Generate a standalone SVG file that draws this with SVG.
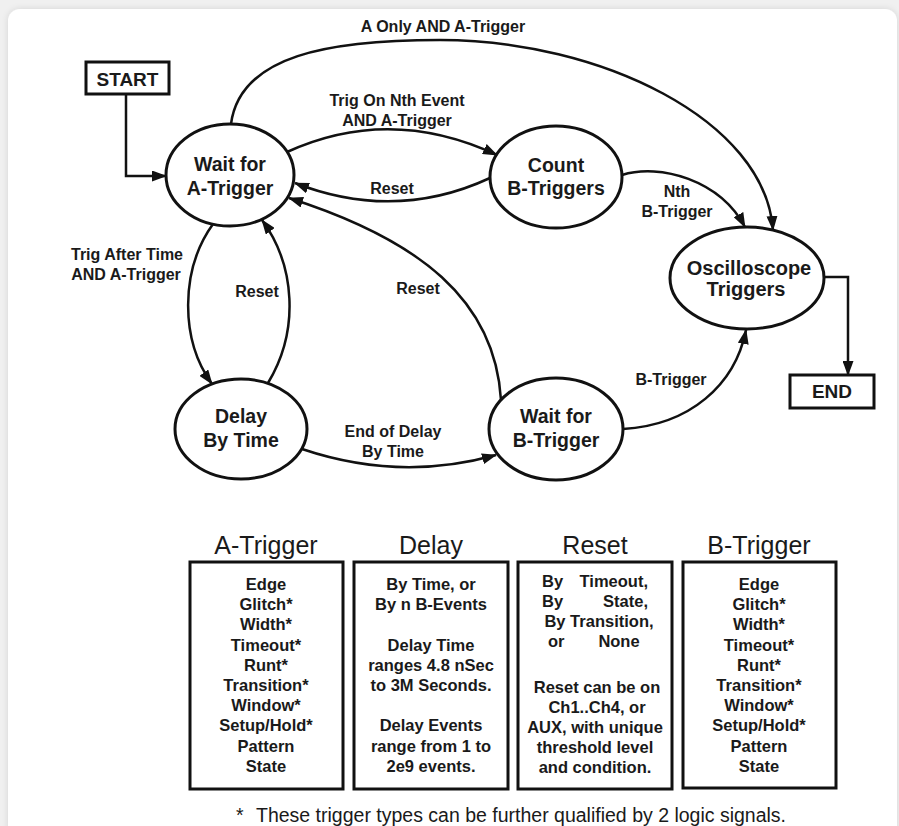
<svg xmlns="http://www.w3.org/2000/svg" width="899" height="826" viewBox="0 0 899 826">
<style>
.node ellipse{fill:#fff;stroke:#111;stroke-width:3}
.box rect{fill:#fff;stroke:#111;stroke-width:3}
.nt{font-family:"Liberation Sans",Arial,sans-serif;font-weight:bold;font-size:19.5px;fill:#1a1a1a;text-anchor:middle}
.lbl{font-family:"Liberation Sans",Arial,sans-serif;font-weight:bold;font-size:16px;fill:#1a1a1a;text-anchor:middle}
.bt{font-family:"Liberation Sans",Arial,sans-serif;font-weight:bold;font-size:16.5px;fill:#1a1a1a;text-anchor:middle}
.ttl{font-family:"Liberation Sans",Arial,sans-serif;font-size:25px;fill:#1a1a1a;text-anchor:middle}
.foot{font-family:"Liberation Sans",Arial,sans-serif;font-size:19.5px;fill:#1a1a1a}
#connectors path{fill:none;stroke:#111;stroke-width:2.5;marker-end:url(#arr)}
</style>
<defs>
<marker id="arr" viewBox="0 0 15 11" refX="14" refY="5.5" markerWidth="15" markerHeight="11" markerUnits="userSpaceOnUse" orient="auto">
<path d="M0,0 L15,5.5 L0,11 z" fill="#111"/>
</marker>
<filter id="sh" x="-5%" y="-5%" width="110%" height="110%">
<feDropShadow dx="0" dy="0" stdDeviation="3" flood-color="#000" flood-opacity="0.12"/>
</filter>
</defs>
<rect x="0" y="0" width="899" height="826" fill="#f0f0f0"/>
<rect x="8" y="9" width="889" height="830" rx="12" fill="#fff" filter="url(#sh)"/>

<g id="connectors">
<path d="M126,94 V176 H166"/>
<path d="M231,124 C240,55 330,40 440,40 C600,40 765,120 773,230"/>
<path d="M287,152 Q390,105 497,155"/>
<path d="M490,178 Q395,222 295,183"/>
<path d="M501,400 C495,300 420,240 289,198"/>
<path d="M622,175 C660,163 720,180 745,227"/>
<path d="M623,429 C690,425 735,385 746,330"/>
<path d="M213,224 C180,270 180,340 212,384"/>
<path d="M268,383 C300,330 295,265 262,220"/>
<path d="M302,449 Q400,482 496,455"/>
<path d="M823,277 H848 V375"/>
</g>

<g id="edge-labels">
<text class="lbl" x="443" y="32">A Only AND A-Trigger</text>
<text class="lbl" x="397" y="106">Trig On Nth Event</text>
<text class="lbl" x="397" y="126">AND A-Trigger</text>
<text class="lbl" x="392" y="194">Reset</text>
<text class="lbl" x="677" y="197">Nth</text>
<text class="lbl" x="677" y="217">B-Trigger</text>
<text class="lbl" x="127" y="260">Trig After Time</text>
<text class="lbl" x="126" y="280">AND A-Trigger</text>
<text class="lbl" x="257" y="297">Reset</text>
<text class="lbl" x="418" y="294">Reset</text>
<text class="lbl" x="671" y="385">B-Trigger</text>
<text class="lbl" x="393" y="437">End of Delay</text>
<text class="lbl" x="393" y="457">By Time</text>
</g>

<g id="start" class="box">
<rect x="86" y="62" width="83" height="32"/>
<text class="nt" x="127.5" y="85.5" style="font-size:19px">START</text>
</g>
<g id="end" class="box">
<rect x="790" y="375" width="84" height="33"/>
<text class="nt" x="832" y="398" style="font-size:19px">END</text>
</g>

<g id="wait-a" class="node">
<ellipse cx="230" cy="175" rx="64" ry="51"/>
<text class="nt" x="230" y="171">Wait for</text>
<text class="nt" x="230" y="195">A-Trigger</text>
</g>
<g id="count-b" class="node">
<ellipse cx="556" cy="177" rx="66" ry="51"/>
<text class="nt" x="556" y="172">Count</text>
<text class="nt" x="556" y="195">B-Triggers</text>
</g>
<g id="osc" class="node">
<ellipse cx="747" cy="278" rx="77" ry="51"/>
<text class="nt" x="749" y="275" style="font-size:20px">Oscilloscope</text>
<text class="nt" x="746" y="296" style="font-size:20px">Triggers</text>
</g>
<g id="delay" class="node">
<ellipse cx="241" cy="429" rx="66" ry="50"/>
<text class="nt" x="241" y="423">Delay</text>
<text class="nt" x="241" y="447">By Time</text>
</g>
<g id="wait-b" class="node">
<ellipse cx="556" cy="429" rx="67" ry="51"/>
<text class="nt" x="556" y="423">Wait for</text>
<text class="nt" x="556" y="447">B-Trigger</text>
</g>

<g id="a-trigger-box" class="box">
<text class="ttl" x="266" y="554">A-Trigger</text>
<rect x="190" y="562" width="153" height="227"/>
<text class="bt" x="266" y="590">Edge</text>
<text class="bt" x="266" y="610.2">Glitch*</text>
<text class="bt" x="266" y="630.4">Width*</text>
<text class="bt" x="266" y="650.6">Timeout*</text>
<text class="bt" x="266" y="670.8">Runt*</text>
<text class="bt" x="266" y="691">Transition*</text>
<text class="bt" x="266" y="711.2">Window*</text>
<text class="bt" x="266" y="731.4">Setup/Hold*</text>
<text class="bt" x="266" y="751.6">Pattern</text>
<text class="bt" x="266" y="771.8">State</text>
</g>

<g id="delay-box" class="box">
<text class="ttl" x="431" y="554">Delay</text>
<rect x="354" y="562" width="154" height="227"/>
<text class="bt" x="431" y="590">By Time, or</text>
<text class="bt" x="431" y="610.2">By n B-Events</text>
<text class="bt" x="431" y="650.6">Delay Time</text>
<text class="bt" x="431" y="670.8">ranges 4.8 nSec</text>
<text class="bt" x="431" y="691">to 3M Seconds.</text>
<text class="bt" x="431" y="731.4">Delay Events</text>
<text class="bt" x="431" y="751.6">range from 1 to</text>
<text class="bt" x="431" y="771.8">2e9 events.</text>
</g>

<g id="reset-box" class="box">
<text class="ttl" x="595" y="554">Reset</text>
<rect x="518" y="562" width="154" height="227"/>
<text class="bt" x="542" y="587" style="text-anchor:start">By</text>
<text class="bt" x="648" y="587" style="text-anchor:end">Timeout,</text>
<text class="bt" x="542" y="607" style="text-anchor:start">By</text>
<text class="bt" x="648" y="607" style="text-anchor:end">State,</text>
<text class="bt" x="599" y="627">By Transition,</text>
<text class="bt" x="548" y="647" style="text-anchor:start">or</text>
<text class="bt" x="619" y="647">None</text>
<text class="bt" x="597" y="693">Reset can be on</text>
<text class="bt" x="597" y="713">Ch1..Ch4, or</text>
<text class="bt" x="595" y="733">AUX, with unique</text>
<text class="bt" x="595" y="753">threshold level</text>
<text class="bt" x="595" y="773">and condition.</text>
</g>

<g id="b-trigger-box" class="box">
<text class="ttl" x="759" y="554">B-Trigger</text>
<rect x="683" y="562" width="153" height="226"/>
<text class="bt" x="759" y="590">Edge</text>
<text class="bt" x="759" y="610.2">Glitch*</text>
<text class="bt" x="759" y="630.4">Width*</text>
<text class="bt" x="759" y="650.6">Timeout*</text>
<text class="bt" x="759" y="670.8">Runt*</text>
<text class="bt" x="759" y="691">Transition*</text>
<text class="bt" x="759" y="711.2">Window*</text>
<text class="bt" x="759" y="731.4">Setup/Hold*</text>
<text class="bt" x="759" y="751.6">Pattern</text>
<text class="bt" x="759" y="771.8">State</text>
</g>

<g id="footnote">
<text class="foot" x="236" y="822">*</text>
<text class="foot" x="256" y="822">These trigger types can be further qualified by 2 logic signals.</text>
</g>
</svg>
